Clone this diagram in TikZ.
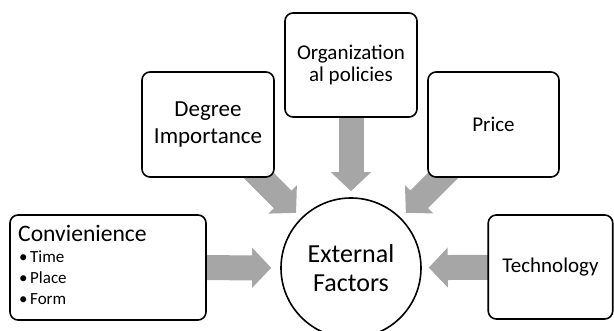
\documentclass[tikz,border=0pt]{standalone}
\usepackage{fontspec}
\setmainfont{Carlito}
\usetikzlibrary{arrows.meta,backgrounds}
\definecolor{arrowgray}{RGB}{166,166,166}
\begin{document}
\begin{tikzpicture}[x=1pt,y=-1pt,
  box/.style={draw=black, line width=1.6pt, rounded corners=8pt, fill=white, inner sep=0pt, align=center},
  flow/.style={draw=arrowgray, line width=25pt, shorten <=-20pt, shorten >=7pt,
    -{Triangle[width=39pt,length=19pt]}},
  lbl/.style={inner sep=0pt, anchor=base west}]
\useasboundingbox (0,0) rectangle (614,331);
\clip (0,0) rectangle (614,331);

\node[circle, draw=black, line width=1.6pt, fill=white, minimum size=140pt, inner sep=0pt,
  align=center, font=\fontsize{26}{29}\selectfont] (ext) at (351,268) {External\\Factors};

\node[box, minimum width=196pt, minimum height=105pt] (conv) at (108,267.5) {};
\node[lbl, font=\fontsize{23.6}{28}\selectfont] (convt) at (18,241.7) {Convienience};
\node[lbl, font=\fontsize{17}{20}\selectfont] (b1) at (19,263) {\makebox[11pt][l]{\textbullet}Time};
\node[lbl, font=\fontsize{17}{20}\selectfont] (b2) at (19,284) {\makebox[11pt][l]{\textbullet}Place};
\node[lbl, font=\fontsize{17}{20}\selectfont] (b3) at (19,304.5) {\makebox[11pt][l]{\textbullet}Form};

\node[box, minimum width=132pt, minimum height=105pt, font=\fontsize{23}{26.5}\selectfont] (deg) at (208,124.5) {Degree\\Importance};
\node[box, minimum width=132pt, minimum height=104pt, font=\fontsize{21}{22.6}\selectfont] (org) at (351,65) {Organization\\al policies};
\node[box, minimum width=131pt, minimum height=105pt, font=\fontsize{21}{25}\selectfont] (price) at (493.5,124.5) {Price};
\node[box, minimum width=124.5pt, minimum height=104pt, font=\fontsize{21}{25}\selectfont] (tech) at (550.5,267) {Technology};

\begin{scope}[on background layer]
  \draw[flow, shorten >=9pt] (conv) -- (ext);
  \draw[flow] (deg) -- (ext);
  \draw[flow, shorten >=6pt] (org) -- (ext);
  \draw[flow] (price) -- (ext);
  \draw[flow] (tech) -- (ext);
\end{scope}
\end{tikzpicture}
\end{document}
